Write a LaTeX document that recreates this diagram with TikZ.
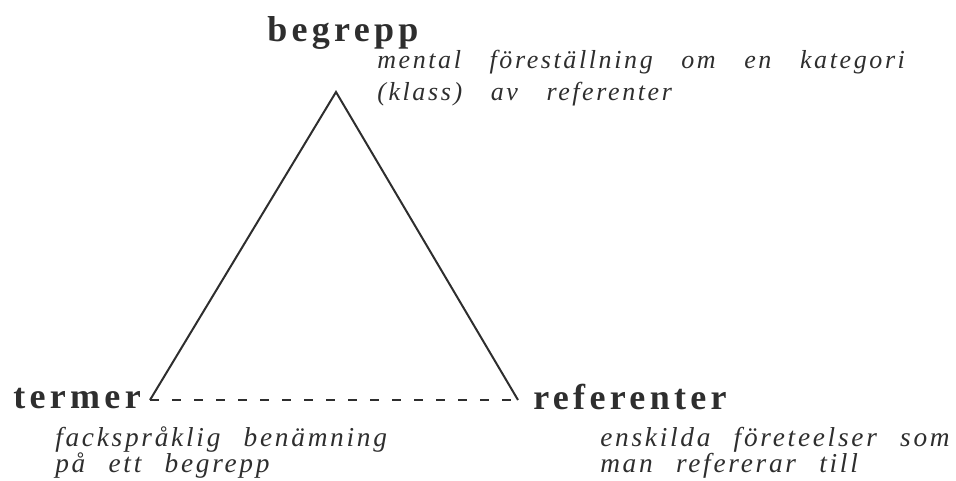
\documentclass[tikz,border=0pt]{standalone}
\usepackage{fontspec}
\setmainfont{Liberation Serif}
\newfontfamily\headfont[LetterSpace=12]{Liberation Serif}
\newfontfamily\descfont[LetterSpace=10]{Liberation Serif}
\newcommand\wideword{\spaceskip=1.1em\relax}
\newcommand\midword{\spaceskip=0.85em\relax}
\begin{document}
\begin{tikzpicture}[x=0.75pt,y=-0.75pt,
  head/.style={inner sep=0pt,font={\headfont\fontsize{27}{27}\selectfont\bfseries},text=black!82},
  desc/.style={inner sep=0pt,align=left,font={\descfont\fontsize{19.5}{24}\selectfont\itshape\wideword},text=black!82},
  descb/.style={desc,font={\descfont\fontsize{20.5}{19.5}\selectfont\itshape\midword}},
  side/.style={line width=1.5pt,black!82},
  base/.style={line width=1.1pt,dash pattern=on 6.75pt off 9.75pt,black!82}]
\useasboundingbox (0,0) rectangle (956,481);
\coordinate (top) at (336,92);
\coordinate (left) at (150,400);
\coordinate (right) at (518,400);
\draw[side] (left) -- (top) -- (right);
\draw[base] (left) -- (right);
\node[head,anchor=base west] (begrepp) at (267,42) {begrepp};
\node[desc,anchor=base west] (begreppdesc) at (377,101) {mental föreställning om en kategori\\(klass) av referenter};
\node[head,anchor=base west] (termer) at (13,408) {termer};
\node[descb,anchor=base west] (termerdesc) at (55,472) {fackspråklig benämning\\på ett begrepp};
\node[head,anchor=base west] (referenter) at (533,409) {referenter};
\node[descb,anchor=base west] (referenterdesc) at (600,472) {enskilda företeelser som\\man refererar till};
\end{tikzpicture}
\end{document}
